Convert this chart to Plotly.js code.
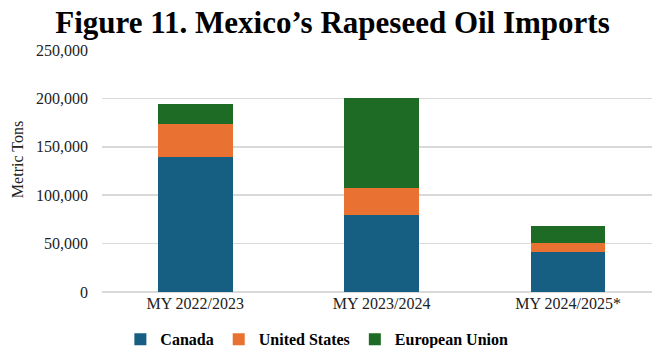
<!DOCTYPE html>
<html>
<head>
<meta charset="utf-8">
<script src="https://cdn.plot.ly/plotly-3.0.1.min.js"></script>
<style>html,body{margin:0;padding:0;background:#fff;overflow:hidden;}</style>
</head>
<body>
<div id="chart" style="width:652px;height:348px;"></div>
<script>
const categories = ["MY 2022/2023", "MY 2023/2024", "MY 2024/2025*"];
const canada = [139000, 80000, 41000];
const unitedStates = [35000, 27500, 9500];
const europeanUnion = [20000, 92500, 17500];
const yTickVals = [0, 50000, 100000, 150000, 200000, 250000];
const yTickText = ["0", "50,000", "100,000", "150,000", "200,000", "250,000"];

const serif = "Liberation Serif";

const traces = [
  {name: "Canada", x: categories, y: canada, type: "bar", marker: {color: "#175F82"}},
  {name: "United States", x: categories, y: unitedStates, type: "bar", marker: {color: "#E97132"}},
  {name: "European Union", x: categories, y: europeanUnion, type: "bar", marker: {color: "#1D6B24"}}
];

const layout = {
  width: 652, height: 348,
  margin: {l: 102, r: 0, t: 50, b: 56},
  paper_bgcolor: "#fff", plot_bgcolor: "#fff",
  barmode: "stack",
  bargap: 0.6,
  title: {text: "<b>Figure 11. Mexico’s Rapeseed Oil Imports</b>", font: {family: serif, size: 31, color: "#000"},
          x: 0.51, xanchor: "center", y: 0.935, yanchor: "middle", yref: "container"},
  xaxis: {type: "category", range: [-0.5, 2.45], showgrid: false, zeroline: false, showline: false,
          ticks: "", tickfont: {family: serif, size: 16, color: "#222"}, fixedrange: true, automargin: false},
  yaxis: {range: [0, 250000], tickvals: yTickVals, ticktext: yTickText, showgrid: true, gridcolor: "#d9d9d9",
          gridwidth: 1.5, zeroline: true, zerolinecolor: "#d9d9d9", zerolinewidth: 1.5, showline: false, ticks: "",
          ticklabelstandoff: 13, automargin: false,
          tickfont: {family: serif, size: 16, color: "#222"}},
  annotations: [{text: "Metric Tons", xref: "paper", yref: "paper", x: -0.1545, y: 0.545,
                 xanchor: "center", yanchor: "middle", textangle: -90, showarrow: false,
                 font: {family: serif, size: 16, color: "#222"}}],
  showlegend: true,
  legend: {orientation: "h", x: 0.486, xanchor: "center", xref: "container", y: 0.025, yanchor: "middle", yref: "container",
           font: {family: serif, size: 16, color: "#000", weight: "bold"}, traceorder: "normal",
           itemwidth: 30, itemsizing: "constant"}
};

Plotly.newPlot("chart", traces, layout, {displayModeBar: false, staticPlot: true});
</script>
</body>
</html>
